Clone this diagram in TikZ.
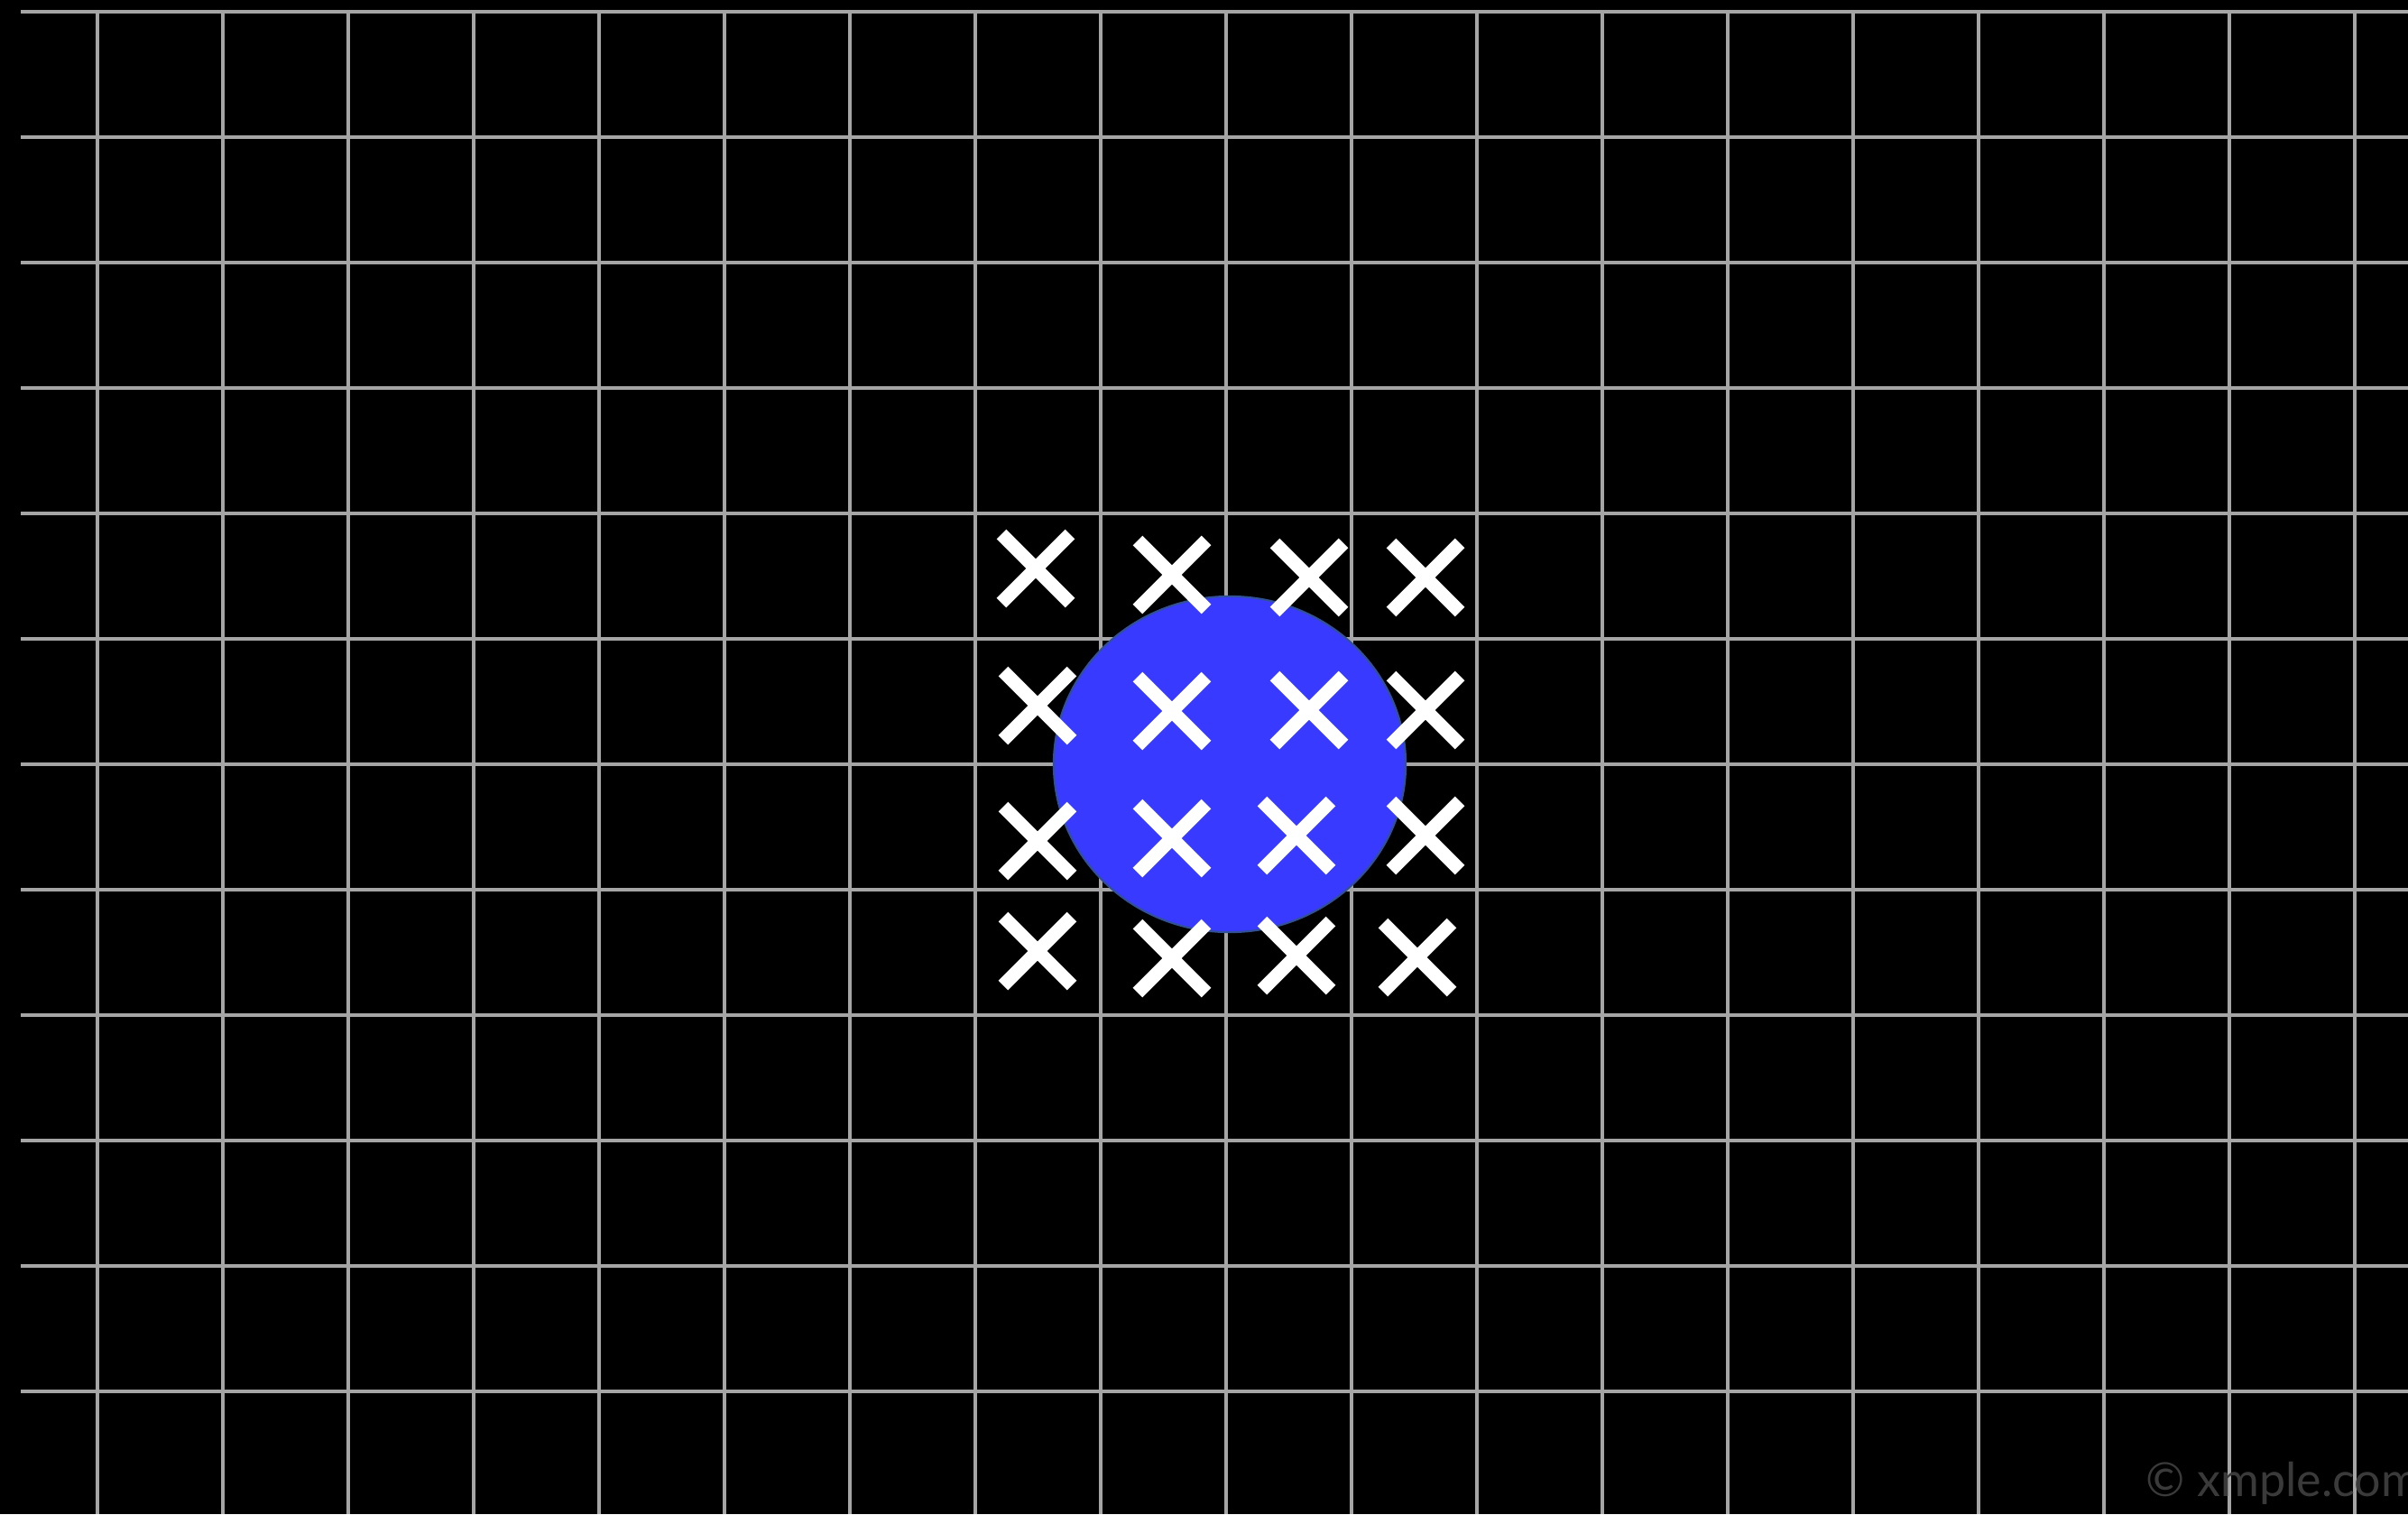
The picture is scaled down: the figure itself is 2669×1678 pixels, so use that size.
\documentclass[tikz,border=0pt]{standalone}
\usepackage{fontspec}
\newfontfamily\wmfont{Lato}
\definecolor{gridgray}{RGB}{165,165,165}
\definecolor{dotblue}{RGB}{56,58,255}
\definecolor{rimblue}{RGB}{50,80,150}
\definecolor{wmgray}{RGB}{58,58,58}
\begin{document}
\begin{tikzpicture}[x=0.01cm,y=-0.01cm,
  gridline/.style={draw=gridgray,line width=1.25pt},
  xstroke/.style={draw=white,line width=4.3pt,line cap=butt},
  xmark/.pic={\path[xstroke] (-38,-38)--(38,38) (-38,38)--(38,-38);},
  wmark/.style={anchor=base west,text=wmgray,inner sep=0pt,font=\wmfont\fontsize{14.8}{15}\selectfont}]
\useasboundingbox[fill=black] (0,0) rectangle (2669,1678);
% grid
\foreach \i in {0,...,18} \draw[gridline] ({108+139*\i},13) -- ({108+139*\i},1678);
\foreach \j in {0,...,11} \draw[gridline] (23,{13+139*\j}) -- (2669,{13+139*\j});
% blue dot
\draw[fill=dotblue,draw=rimblue,line width=0.6pt] (1363,847) ellipse [x radius=1.95cm,y radius=1.86cm];
% crosses
\foreach \p in {(1148,630),(1299,637),(1451,640),(1580,640),
                (1150,782),(1299,788),(1451,787),(1580,787),
                (1150,932),(1299,929),(1437,926),(1580,926),
                (1150,1054),(1299,1062),(1437,1059),(1571,1061)}
  \pic at \p {xmark};
% watermark
\node[wmark] (wm) at (2378,1658) {© xmple.com};
\end{tikzpicture}
\end{document}
